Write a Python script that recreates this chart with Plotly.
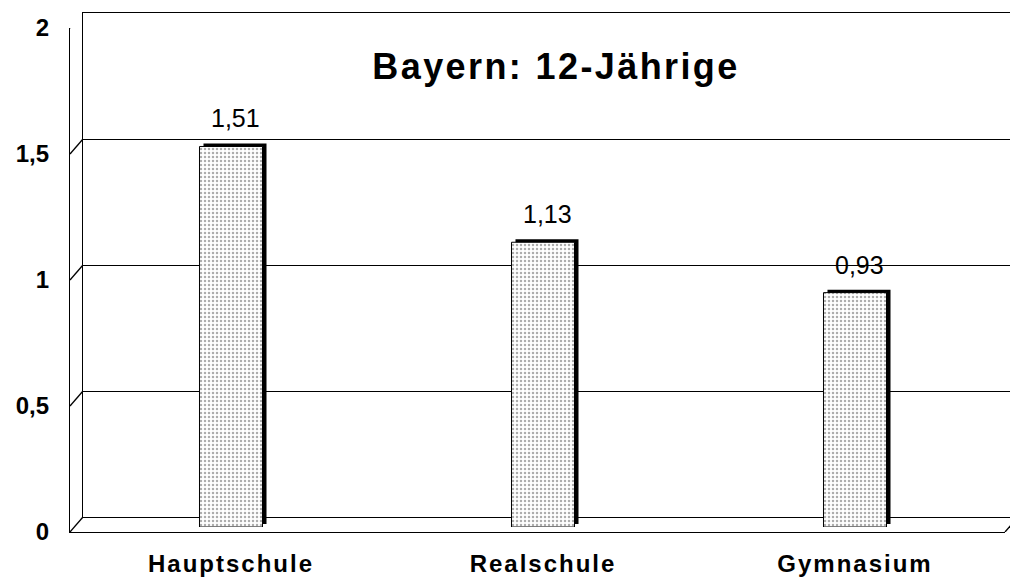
import plotly.graph_objects as go

# Data
categories = ["Hauptschule", "Realschule", "Gymnasium"]
values = [1.51, 1.13, 0.93]
y_ticks = [0, 0.5, 1, 1.5, 2]
title_text = "Bayern: 12-Jährige"

W, H = 1010, 578
FONT = "Liberation Sans, Arial, sans-serif"

# pixel geometry of the pseudo-3D frame
BACK_LEFT, BACK_BOTTOM, BACK_TOP = 83, 517, 13
FRONT_LEFT, FRONT_RIGHT, FRONT_BOTTOM, FRONT_TOP = 70, 1005, 532, 28
BAR_BOTTOM, BAR_TOP = 527, 23
CAT_PX = 312          # width of one category in pixels
FIRST_CENTER = 231    # pixel of first category centre
BAR_W = 0.202         # bar width in category units
DEPTH_X, DEPTH_Y = 4, 3  # extrusion of the bars in pixels


def py(px):
    return (H - px) / H


fig = go.Figure()

# --- back wall (subplot xy): gridlines ---------------------------------
fig.add_trace(go.Scatter(x=[0], y=[0], mode="markers", marker=dict(opacity=0),
                         showlegend=False, hoverinfo="skip", xaxis="x", yaxis="y"))

# --- front frame (subplot x2y2): value axis labels ---------------------
fig.add_trace(go.Scatter(x=[0], y=[0], mode="markers", marker=dict(opacity=0),
                         showlegend=False, hoverinfo="skip", xaxis="x2", yaxis="y2"))

# --- bars (subplot x3y3) -----------------------------------------------
px_per_unit = (BAR_BOTTOM - BAR_TOP) / 2.0
fig.add_trace(go.Bar(
    x=categories, y=values,
    base=DEPTH_Y / px_per_unit,
    width=BAR_W,
    offset=-BAR_W / 2 + DEPTH_X / CAT_PX,
    marker=dict(color="black", line=dict(width=0)),
    showlegend=False, hoverinfo="skip", xaxis="x3", yaxis="y3",
))
fig.add_trace(go.Bar(
    x=categories, y=values,
    width=BAR_W,
    marker=dict(color="white",
                line=dict(color="black", width=1),
                pattern=dict(shape=".", size=4, solidity=0.3,
                             fgcolor="#5a5a5a", bgcolor="white")),
    showlegend=False, hoverinfo="skip", xaxis="x3", yaxis="y3",
))

# value labels above the bars
for c, v in zip(categories, values):
    fig.add_annotation(
        x=c, y=v, xref="x3", yref="y3",
        text=f"{v:.2f}".replace(".", ","),
        showarrow=False, yanchor="bottom", xanchor="center",
        xshift=4, yshift=12,
        font=dict(family=FONT, size=25, color="black"),
    )

# side-wall diagonals joining front axis ticks to the back wall
for t in y_ticks:
    fig.add_shape(type="line", xref="paper", yref="y2",
                  ysizemode="pixel", yanchor=t, y0=0, y1=FRONT_BOTTOM - BACK_BOTTOM,
                  x0=FRONT_LEFT / W, x1=BACK_LEFT / W,
                  line=dict(color="black", width=1.3))
# floor corner on the right
fig.add_shape(type="line", xref="paper", yref="y2",
              ysizemode="pixel", yanchor=0, y0=0, y1=FRONT_BOTTOM - BACK_BOTTOM,
              x0=FRONT_RIGHT / W, x1=(FRONT_RIGHT + BACK_LEFT - FRONT_LEFT) / W,
              line=dict(color="black", width=1.3))

fig.update_layout(
    width=W, height=H, autosize=False,
    margin=dict(l=0, r=0, t=0, b=0, pad=0, autoexpand=False),
    paper_bgcolor="white", plot_bgcolor="rgba(0,0,0,0)",
    separators=",.",
    barmode="overlay",
    title=dict(text=title_text, x=556 / W, xanchor="center",
               y=py(66), yanchor="middle", automargin=False,
               font=dict(family=FONT, size=36, color="black", weight="bold")),
    xaxis=dict(domain=[BACK_LEFT / W, 1], range=[0, 1], anchor="y", automargin=False,
               showgrid=False, zeroline=False, showticklabels=False,
               showline=True, mirror=True, linecolor="black", linewidth=1.3),
    yaxis=dict(domain=[py(BACK_BOTTOM), py(BACK_TOP)], range=[0, 2], anchor="x",
               automargin=False,
               tickvals=y_ticks, showgrid=True, gridcolor="black", gridwidth=1.3,
               zeroline=False, showticklabels=False, showline=True,
               linecolor="black", linewidth=1.3),
    xaxis2=dict(domain=[FRONT_LEFT / W, FRONT_RIGHT / W], range=[0, 1], anchor="y2",
                automargin=False,
                showgrid=False, zeroline=False, showticklabels=False,
                showline=True, linecolor="black", linewidth=1.3),
    yaxis2=dict(domain=[py(FRONT_BOTTOM), py(FRONT_TOP)], range=[0, 2], anchor="x2",
                automargin=False,
                tickvals=y_ticks, showgrid=False, zeroline=False,
                showline=True, linecolor="black", linewidth=1.3,
                ticks="", ticklabelstandoff=15,
                tickfont=dict(family=FONT, size=24, color="black", weight="bold")),
    xaxis3=dict(domain=[(FIRST_CENTER - CAT_PX / 2) / W, 1], anchor="y3",
                automargin=False,
                range=[-0.5, -0.5 + (W - FIRST_CENTER + CAT_PX / 2) / CAT_PX],
                type="category", categoryorder="array", categoryarray=categories,
                showgrid=False, zeroline=False, showline=False, ticks="",
                ticklabelstandoff=20,
                tickfont=dict(family=FONT, size=24, color="black", weight="bold")),
    yaxis3=dict(domain=[py(BAR_BOTTOM), py(BAR_TOP)], range=[0, 2], anchor="x3",
                automargin=False,
                showgrid=False, zeroline=False, showticklabels=False, showline=False),
)

# widen the letter spacing of the bold headings
spacing_js = """
document.querySelectorAll('.gtitle').forEach(function(t){t.style.letterSpacing='2.4px';});
document.querySelectorAll('.x3tick text').forEach(function(t){t.style.letterSpacing='2px';});
"""

fig.write_html("out.html", post_script=spacing_js)
